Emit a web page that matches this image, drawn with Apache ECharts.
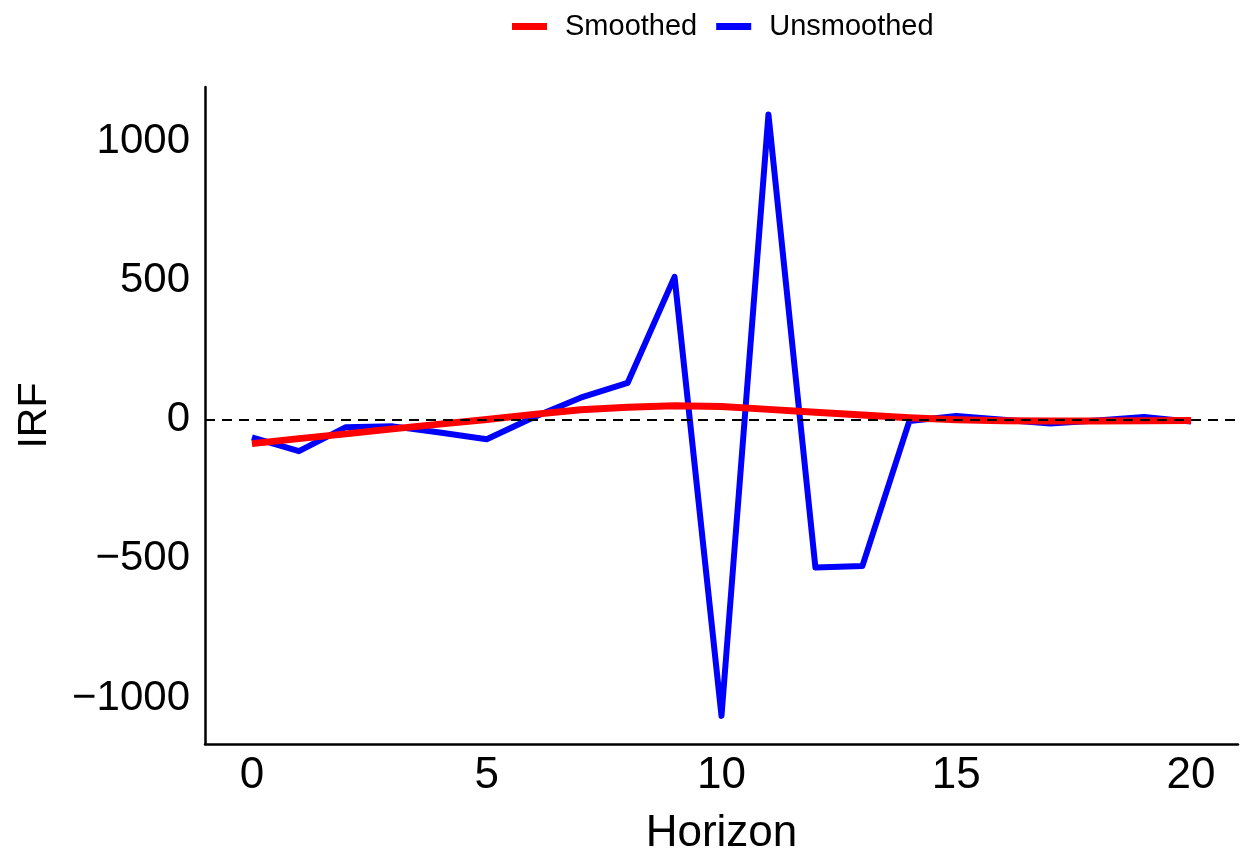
<!DOCTYPE html>
<html>
<head>
<meta charset="utf-8">
<script src="https://cdn.jsdelivr.net/npm/echarts@6/dist/echarts.min.js"></script>
<style>html,body{margin:0;padding:0;background:#fff}#c{width:1243px;height:861px}</style>
</head>
<body>
<div id="c"></div>
<script>
const horizon = [0,1,2,3,4,5,6,7,8,9,10,11,12,13,14,15,16,17,18,19,20];
const unsmoothed = [-64,-113,-27,-24,-46,-70,9,79,132,513,-1064,1096,-531,-526,-5,13,0,-14,-3,10,-7];
const smoothed = [-86,-68,-51,-33,-16,1,19,36,45,50,47,37,27,17,7,0,-4,-5,-5,-4,-3];
const xTicks = [0,5,10,15,20];
const yTicks = [-1000,-500,0,500,1000];

const pair = (ys) => horizon.map((x,i)=>[x, ys[i]]);
const font = 'Liberation Sans, Arial, sans-serif';
const chart = echarts.init(document.getElementById('c'), null, {renderer:'canvas'});
chart.setOption({
  animation:false,
  backgroundColor:'#fff',
  legend:{
    data:['Smoothed','Unsmoothed'],
    top:12, left:512, padding:0,
    icon:'rect', itemWidth:35, itemHeight:7, itemGap:19,
    textStyle:{fontFamily:font, fontSize:29, color:'#000', padding:[0,0,0,13]}
  },
  grid:{left:205, right:5, top:87, bottom:113, containLabel:false},
  xAxis:{
    type:'value', min:-1, max:21,
    name:'Horizon', nameLocation:'middle', nameGap:68,
    nameTextStyle:{fontFamily:font, fontSize:44, color:'#000'},
    axisLine:{show:true, onZero:false, lineStyle:{color:'#000', width:2.5}},
    axisTick:{show:false},
    splitLine:{show:false},
    axisLabel:{customValues:xTicks, fontFamily:font, fontSize:44, color:'#000', margin:10}
  },
  yAxis:{
    type:'value', min:-1165, max:1195,
    name:'IRF', nameLocation:'middle', nameGap:150,
    nameTextStyle:{fontFamily:font, fontSize:41, color:'#000'},
    axisLine:{show:true, onZero:false, lineStyle:{color:'#000', width:2.5}},
    axisTick:{show:false},
    splitLine:{show:false},
    axisLabel:{customValues:yTicks, fontFamily:font, fontSize:42, color:'#000', margin:15,
      formatter:(v)=> v<0 ? '\u2212'+Math.abs(v) : String(v)}
  },
  series:[
    {
      name:'Unsmoothed', type:'line', data:pair(unsmoothed),
      showSymbol:false, symbol:'none', z:2,
      lineStyle:{color:'#0000ff', width:6, join:'round', cap:'butt'},
      itemStyle:{color:'#0000ff'},
      markLine:{
        silent:true, symbol:['none','none'], label:{show:false},
        lineStyle:{color:'#000', type:[10,7], width:2.2},
        data:[{yAxis:0}]
      }
    },
    {
      name:'Smoothed', type:'line', data:pair(smoothed),
      showSymbol:false, symbol:'none', z:3,
      lineStyle:{color:'#ff0000', width:7, join:'round', cap:'butt'},
      itemStyle:{color:'#ff0000'}
    }
  ]
});
</script>
</body>
</html>
